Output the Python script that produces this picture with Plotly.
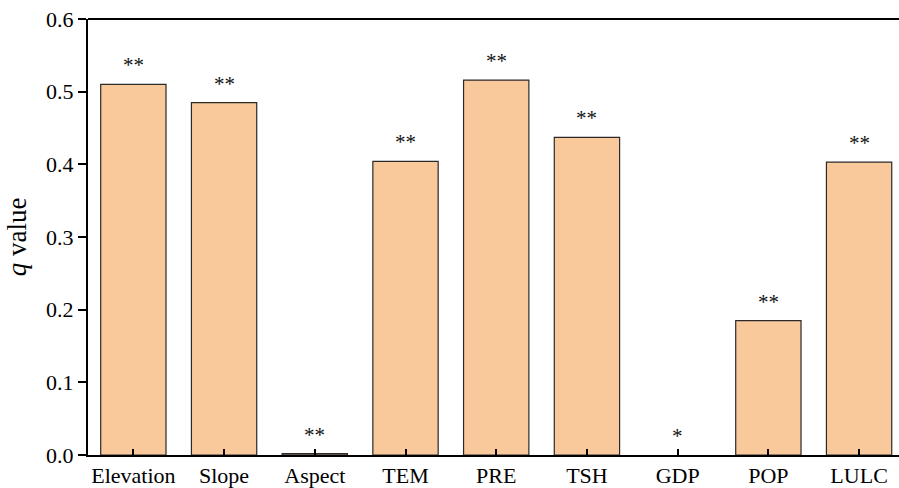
import plotly.graph_objects as go

categories = ["Elevation", "Slope", "Aspect", "TEM", "PRE", "TSH", "GDP", "POP", "LULC"]
q_values = [0.510, 0.485, 0.002, 0.404, 0.516, 0.437, 0.0, 0.185, 0.403]
significance = ["**", "**", "**", "**", "**", "**", "*", "**", "**"]
y_ticks = [0.0, 0.1, 0.2, 0.3, 0.4, 0.5, 0.6]

font_family = "Liberation Serif, Times New Roman, serif"

outline_widths = [1.2 if v > 0 else 0 for v in q_values]

fig = go.Figure()
fig.add_trace(go.Bar(
    x=categories, y=q_values, width=0.72,
    marker=dict(color="#F9C89B", line=dict(color="#2a2a2a", width=outline_widths)),
))

for c, v, s in zip(categories, q_values, significance):
    fig.add_annotation(x=c, y=v, text=s, showarrow=False, yanchor="bottom",
                       yshift=5, font=dict(family=font_family, size=21, color="#111"))

fig.add_shape(type="line", xref="paper", yref="paper", x0=0, x1=1, y0=1, y1=1,
              line=dict(color="black", width=2))

fig.update_layout(
    width=899, height=488,
    margin=dict(l=88, r=0, t=19, b=31),
    plot_bgcolor="white", paper_bgcolor="white",
    showlegend=False,
    font=dict(family=font_family, size=22, color="black"),
    xaxis=dict(range=[-0.5, 8.44], showline=True, linecolor="black", linewidth=2,
               ticks="inside", ticklen=6, tickwidth=1.5, tickcolor="black",
               tickfont=dict(size=22), showgrid=False, zeroline=False),
    yaxis=dict(range=[0, 0.6], tickvals=y_ticks, ticktext=[f"{t:.1f}" for t in y_ticks],
               showline=True, linecolor="black", linewidth=2,
               ticks="outside", ticklen=8, tickwidth=1.5, tickcolor="black",
               tickfont=dict(size=22), showgrid=False, zeroline=False,
               title=dict(text="<i>q</i> value", font=dict(size=27), standoff=12)),
)

fig.write_html("out.html")
